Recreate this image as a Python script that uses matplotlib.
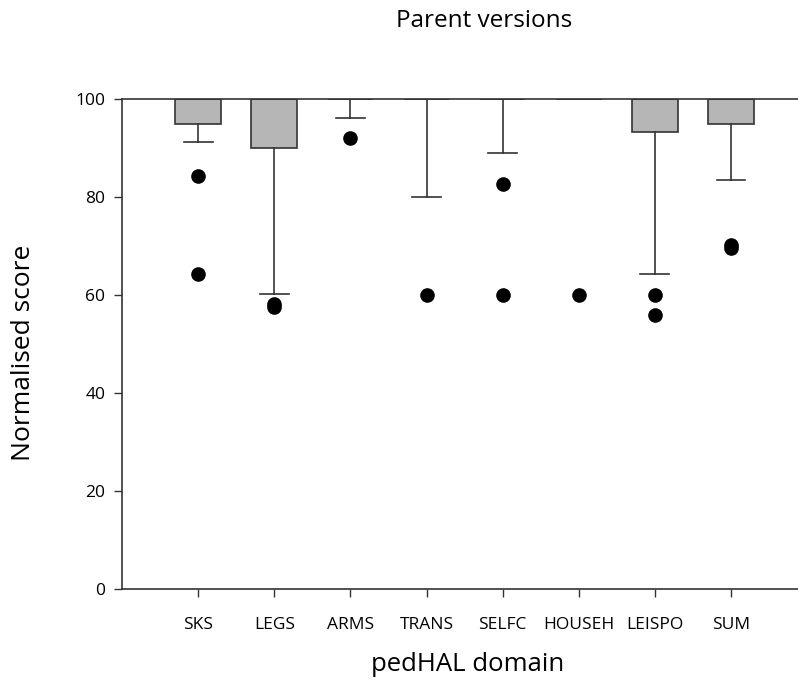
import matplotlib
matplotlib.use('Agg')
import matplotlib.pyplot as plt

# pedHAL domains and the box-plot statistics
domains = ['SKS', 'LEGS', 'ARMS', 'TRANS', 'SELFC', 'HOUSEH', 'LEISPO', 'SUM']
q1 = [95.0, 90.0, 100.0, 100.0, 100.0, 100.0, 93.3, 95.0]
q3 = [100.0, 100.0, 100.0, 100.0, 100.0, 100.0, 100.0, 100.0]
whislo = [91.3, 60.2, 96.2, 80.0, 89.0, 100.0, 64.3, 83.4]
fliers = [[84.2, 64.2], [58.2, 57.5], [92.1], [60.0], [82.6, 60.0], [60.0],
          [60.0, 56.0], [70.2, 69.5]]

plt.rcParams['font.family'] = ['Open Sans', 'DejaVu Sans']

stats = []
for i in range(len(domains)):
    stats.append({'label': domains[i], 'med': q3[i], 'q1': q1[i], 'q3': q3[i],
                  'whislo': whislo[i], 'whishi': q3[i], 'fliers': fliers[i]})

fig = plt.figure(figsize=(7.98, 6.89), dpi=100)
ax = fig.add_axes([0.1529, 0.1451, 0.8471, 0.7112])

pos = list(range(1, len(domains) + 1))
ax.bxp(stats, positions=pos, widths=0.6, patch_artist=True, showcaps=True,
       boxprops=dict(facecolor='#b6b6b6', edgecolor='#333333', linewidth=1.2),
       whiskerprops=dict(color='#333333', linewidth=1.2),
       capprops=dict(color='#333333', linewidth=1.2),
       capwidths=0.38,
       medianprops=dict(color='#333333', linewidth=1.2),
       flierprops=dict(marker='o', markerfacecolor='black', markeredgecolor='black',
                       markersize=9.5))

ax.set_xlim(0, 8.88)
ax.set_ylim(0, 100)
ax.set_yticks([0, 20, 40, 60, 80, 100])
ax.set_xticks(pos)
ax.set_xticklabels(domains)
ax.tick_params(axis='both', labelsize=12.5, direction='out', length=6, width=1,
               color='#333333')
ax.tick_params(axis='x', pad=14)
ax.tick_params(axis='y', pad=6)
for s in ['left', 'bottom', 'top']:
    ax.spines[s].set_color('#333333')
    ax.spines[s].set_linewidth(1.2)
ax.spines['right'].set_visible(False)

fig.text(0.5864, 0.035, 'pedHAL domain', fontsize=18.5, ha='center', va='center')
fig.text(0.029, 0.488, 'Normalised score', fontsize=19, ha='center', va='center',
         rotation=90)
fig.text(0.607, 0.969, 'Parent versions', fontsize=17.5, ha='center', va='center')

fig.savefig('out.png', dpi=100)
